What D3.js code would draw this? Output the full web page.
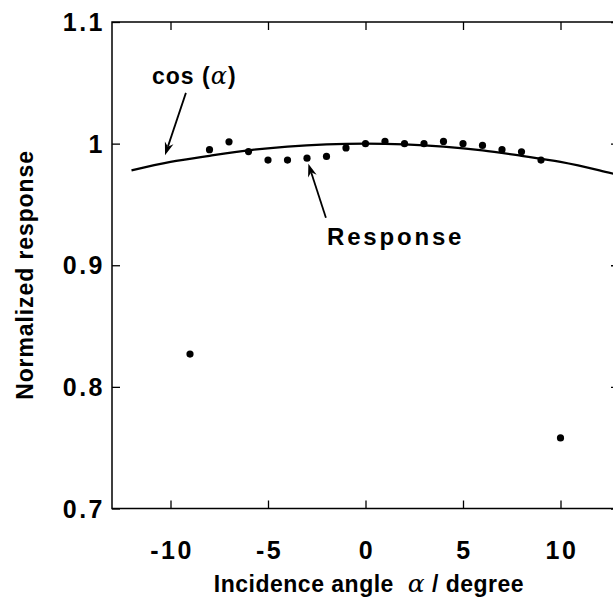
<!DOCTYPE html>
<html><head><meta charset="utf-8">
<script src="https://cdn.jsdelivr.net/npm/d3@7"></script>
<style>
html,body{margin:0;padding:0;background:#fff;}
svg{display:block;}
</style></head>
<body>
<script>
// ---- data ----
const responseAngles = [-9, -8, -7, -6, -5, -4, -3, -2, -1, 0, 1, 2, 3, 4, 5, 6, 7, 8, 9, 10];
const responseValues = [0.827, 0.995, 1.0015, 0.9935, 0.9865, 0.9865, 0.988, 0.9895, 0.9965, 1.0, 1.0018, 1.0, 1.0, 1.0018, 1.0, 0.9985, 0.995, 0.9933, 0.9865, 0.758];
const cosAngles = [-12, -10, -8, -6, -4, -2, 0, 2, 4, 6, 8, 10, 12, 13];
const cosValues = [0.978, 0.985, 0.990, 0.9945, 0.9976, 0.9994, 1.0, 0.9994, 0.9976, 0.9945, 0.990, 0.985, 0.978, 0.974];
const xTicks = [-10, -5, 0, 5, 10];
const xTickLabels = ["-10", "-5", "0", "5", "10"];
const yTicks = [0.7, 0.8, 0.9, 1.0, 1.1];
const yTickLabels = ["0.7", "0.8", "0.9", "1", "1.1"];

const W = 613, H = 601;
const svg = d3.select("body").append("svg").attr("width", W).attr("height", H);

const x = d3.scaleLinear().domain([-13, 13]).range([112, 619]);
const y = d3.scaleLinear().domain([0.7, 1.1]).range([508.5, 22]);

const font = "'Liberation Sans', Arial, Helvetica, sans-serif";
const greek = "'DejaVu Serif', 'Liberation Serif', serif";

// frame
svg.append("rect")
  .attr("x", x(-13)).attr("y", y(1.1))
  .attr("width", x(13) - x(-13)).attr("height", y(0.7) - y(1.1))
  .attr("fill", "none").attr("stroke", "#000").attr("stroke-width", 1.5);

// axes (ticks inward)
const tl = 8;
const xb = svg.append("g").attr("transform", `translate(0,${y(0.7)})`)
  .call(d3.axisBottom(x).tickValues(xTicks).tickSize(-tl).tickFormat(""));
const xt = svg.append("g").attr("transform", `translate(0,${y(1.1)})`)
  .call(d3.axisTop(x).tickValues(xTicks).tickSize(-tl).tickFormat(""));
const yl = svg.append("g").attr("transform", `translate(${x(-13)},0)`)
  .call(d3.axisLeft(y).tickValues(yTicks).tickSize(-tl).tickFormat(""));
const yr = svg.append("g").attr("transform", `translate(${x(13)},0)`)
  .call(d3.axisRight(y).tickValues(yTicks).tickSize(-tl).tickFormat(""));
[xb, xt, yl, yr].forEach(g => {
  g.select(".domain").remove();
  g.selectAll("line").attr("stroke", "#000").attr("stroke-width", 1.3);
});

// tick labels
svg.append("g").selectAll("text").data(xTicks).join("text")
  .attr("x", d => x(d) + 1.5).attr("y", 559)
  .attr("text-anchor", "middle")
  .attr("font-family", font).attr("font-weight", "bold").attr("font-size", 25)
  .attr("letter-spacing", 2.5)
  .text((d, i) => xTickLabels[i]);

svg.append("g").selectAll("text").data(yTicks).join("text")
  .attr("x", 105).attr("y", d => y(d) + 9)
  .attr("text-anchor", "end")
  .attr("font-family", font).attr("font-weight", "bold").attr("font-size", 25)
  .attr("letter-spacing", 2.5)
  .text((d, i) => yTickLabels[i]);

// axis titles
const xt2 = svg.append("text")
  .attr("x", 369).attr("y", 592)
  .attr("text-anchor", "middle")
  .attr("font-family", font).attr("font-weight", "bold").attr("font-size", 23)
  .attr("letter-spacing", 0.5);
xt2.append("tspan").text("Incidence angle\u00a0\u00a0");
xt2.append("tspan").attr("font-family", greek)
  .attr("font-style", "italic").attr("font-weight", "normal").attr("font-size", 25).text("α");
xt2.append("tspan").text(" / degree");

svg.append("text")
  .attr("transform", "translate(33,275) rotate(-90)")
  .attr("text-anchor", "middle")
  .attr("font-family", font).attr("font-weight", "bold").attr("font-size", 23)
  .attr("letter-spacing", 0.9)
  .text("Normalized response");

// cos curve
const line = d3.line().x((d, i) => x(cosAngles[i])).y(d => y(d)).curve(d3.curveMonotoneX);
svg.append("defs").append("clipPath").attr("id", "clip")
  .append("rect").attr("x", x(-13)).attr("y", y(1.1))
  .attr("width", x(13) - x(-13)).attr("height", y(0.7) - y(1.1));
svg.append("path").datum(cosValues)
  .attr("clip-path", "url(#clip)")
  .attr("d", line).attr("fill", "none").attr("stroke", "#000").attr("stroke-width", 2.2);

// response points
svg.append("g").selectAll("circle").data(responseValues).join("circle")
  .attr("cx", (d, i) => x(responseAngles[i])).attr("cy", d => y(d))
  .attr("r", 3.6).attr("fill", "#000");

// annotations
function arrow(x1, y1, x2, y2) {
  const X1 = x(x1), Y1 = y(y1), X2 = x(x2), Y2 = y(y2);
  const ang = Math.atan2(Y2 - Y1, X2 - X1);
  const L = 13, Wd = 4.5, notch = 9;
  svg.append("line").attr("x1", X1).attr("y1", Y1)
    .attr("x2", X2 - Math.cos(ang) * notch).attr("y2", Y2 - Math.sin(ang) * notch)
    .attr("stroke", "#000").attr("stroke-width", 1.8);
  const bx = X2 - Math.cos(ang) * L, by = Y2 - Math.sin(ang) * L;
  const nx = -Math.sin(ang), ny = Math.cos(ang);
  const nX = X2 - Math.cos(ang) * notch, nY = Y2 - Math.sin(ang) * notch;
  svg.append("path")
    .attr("d", `M${X2},${Y2}L${bx + nx * Wd},${by + ny * Wd}L${nX},${nY}L${bx - nx * Wd},${by - ny * Wd}Z`)
    .attr("fill", "#000");
}
arrow(-9.21, 1.0417, -10.28, 0.9905);
arrow(-2.03, 0.939, -2.93, 0.9835);

const cosT = svg.append("text")
  .attr("x", x(-10.95)).attr("y", y(1.049))
  .attr("font-family", font).attr("font-weight", "bold").attr("font-size", 23)
  .attr("letter-spacing", 1);
cosT.append("tspan").text("cos (");
cosT.append("tspan").attr("font-family", greek)
  .attr("font-style", "italic").attr("font-weight", "normal").attr("font-size", 24).text("α");
cosT.append("tspan").text(")");

svg.append("text")
  .attr("x", x(-1.97)).attr("y", y(0.9167))
  .attr("font-family", font).attr("font-weight", "bold").attr("font-size", 24)
  .attr("letter-spacing", 2.8)
  .text("Response");
</script>
</body></html>
